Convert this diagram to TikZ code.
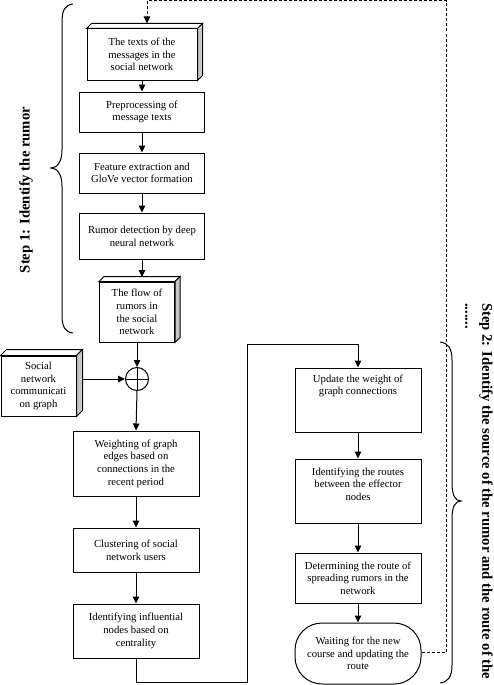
\documentclass[tikz,border=0pt]{standalone}
\usepackage{fontspec}
\setmainfont{Liberation Serif}
\usetikzlibrary{arrows.meta,calc}
\begin{document}
\begin{tikzpicture}[x=1pt,y=-1pt,
  box/.style={draw,line width=1pt,inner sep=0pt,align=center,font=\fontsize{10.7}{12.7}\selectfont},
  txt/.style={inner sep=0pt,align=center,font=\fontsize{10.7}{12.7}\selectfont},
  arr/.style={line width=1pt,-{Triangle[length=7pt,width=6.5pt]}},
  ln/.style={line width=1pt},
  dsh/.style={line width=1pt,dash pattern=on 3pt off 2pt},
  topface/.style={draw,line width=1pt,fill=white},
  sideface/.style={draw,line width=1pt,fill=gray!45},
  lbl/.style={inner sep=0pt,font=\bfseries\fontsize{14.7}{17}\selectfont}]
\useasboundingbox (0,0) rectangle (493,685);

% left column
\node[box,minimum width=110pt,minimum height=51pt] (b1) at (142,54.5) {The texts of the\\messages in the\\social network};
\node[box,minimum width=125pt,minimum height=40pt] (b2) at (142,112) {Preprocessing of\\message texts};
\node[box,minimum width=125pt,minimum height=40pt] (b3) at (142,173) {Feature extraction and\\GloVe vector formation};
\node[box,minimum width=125pt,minimum height=46pt] (b4) at (142,236) {Rumor detection by deep\\neural network};
\node[box,minimum width=75pt,minimum height=60pt] (b5) at (137,312) {The flow of\\rumors in\\the social\\network};
\node[draw,line width=1pt,circle,minimum size=23pt,inner sep=0pt] (c) at (137,379) {};
\node[box,minimum width=75pt,minimum height=60pt] (sn) at (38.5,386) {Social\\network\\communicati\\on graph};
\node[box,minimum width=126pt,minimum height=65pt] (w1) at (136,463.5) {Weighting of graph\\edges based on\\connections in the\\recent period};
\node[box,minimum width=126pt,minimum height=44pt] (w2) at (136,550) {Clustering of social\\network users};
\node[box,minimum width=126pt,minimum height=54pt] (w3) at (136,631) {Identifying influential\\nodes based on\\centrality};

% right column
\node[box,minimum width=126pt,minimum height=64pt] (r1) at (358,400) {};
\node[txt] (r1t) at (358,386) {Update the weight of\\graph connections};
\node[box,minimum width=126pt,minimum height=64pt] (r2) at (358,491) {};
\node[txt] (r2t) at (358,484) {Identifying the routes\\between the effector\\nodes};
\node[box,minimum width=126pt,minimum height=50pt] (r3) at (358,578) {Determining the route of\\spreading rumors in the\\network};
\node[box,rounded corners=27pt,minimum width=126pt,minimum height=61pt] (r4) at (358,653.5) {Waiting for the new\\course and updating the\\route};

% 3D faces
\foreach \n/\d in {b1/5,b5/5,sn/6}{
  \draw[topface] (\n.north west) -- ($(\n.north west)+(\d,-\d)$) -- ($(\n.north east)+(\d,-\d)$) -- (\n.north east) -- cycle;
  \draw[sideface] (\n.north east) -- ($(\n.north east)+(\d,-\d)$) -- ($(\n.south east)+(\d,-\d)$) -- (\n.south east) -- cycle;
}
\draw[ln] (c.north) -- (c.south);
\draw[ln] (c.west) -- (c.east);

\coordinate (b1top) at ($(b1.north)+(5,-5)$);
\coordinate (b5top) at (142,277);
\coordinate (snr) at ($(sn.east |- c)+(6,0)$);

% connectors
\draw[arr] (b1) -- (b2);
\draw[arr] (b2) -- (b3);
\draw[arr] (b3) -- (b4);
\draw[arr] (b4.south) -- (b5top);
\draw[arr] (b5.south) -- (c.north);
\draw[arr] (snr) -- (c.west);
\draw[arr] (c.south) -- (w1.north);
\draw[arr] (w1) -- (w2);
\draw[arr] (w2) -- (w3);
\coordinate (p1) at (136,682);
\coordinate (p2) at (247,682);
\coordinate (p3) at (247,344);
\coordinate (p4) at (358,344);
\draw[arr] (w3.south) -- (p1) -- (p2) -- (p3) -- (p4) -- (r1.north);
\draw[arr] (r1) -- (r2);
\draw[arr] (r2) -- (r3);
\draw[arr] (r3) -- (r4);
\coordinate (d1) at (446,652);
\coordinate (d2) at (446,1);
\coordinate (d3) at (147,1);
\draw[dsh,-{Triangle[length=7pt,width=6.5pt]}] (r4.east |- d1) -- (d1) -- (d2) -- (d3) -- (b1top);

% braces
\draw[ln] (73,4) .. controls (65,5) and (62,10) .. (62,22) -- (62,150) .. controls (62,162) and (57,168) .. (51,168) .. controls (57,168) and (62,174) .. (62,186) -- (62,315) .. controls (62,327) and (65,332) .. (73,333);
\draw[ln] (440,342) .. controls (448,343) and (452,348) .. (452,360) -- (452,483) .. controls (452,495) and (455,501) .. (461,501) .. controls (455,501) and (452,507) .. (452,519) -- (452,665) .. controls (452,677) and (448,682) .. (440,683);

% labels
\node[lbl,rotate=90] (s1) at (26,190) {Step 1: Identify the rumor};
\node[lbl,rotate=-90,anchor=north west,align=left] (s2) at (493,303) {Step 2: Identify the source of the rumor and the route of the\\.......};
\end{tikzpicture}
\end{document}
